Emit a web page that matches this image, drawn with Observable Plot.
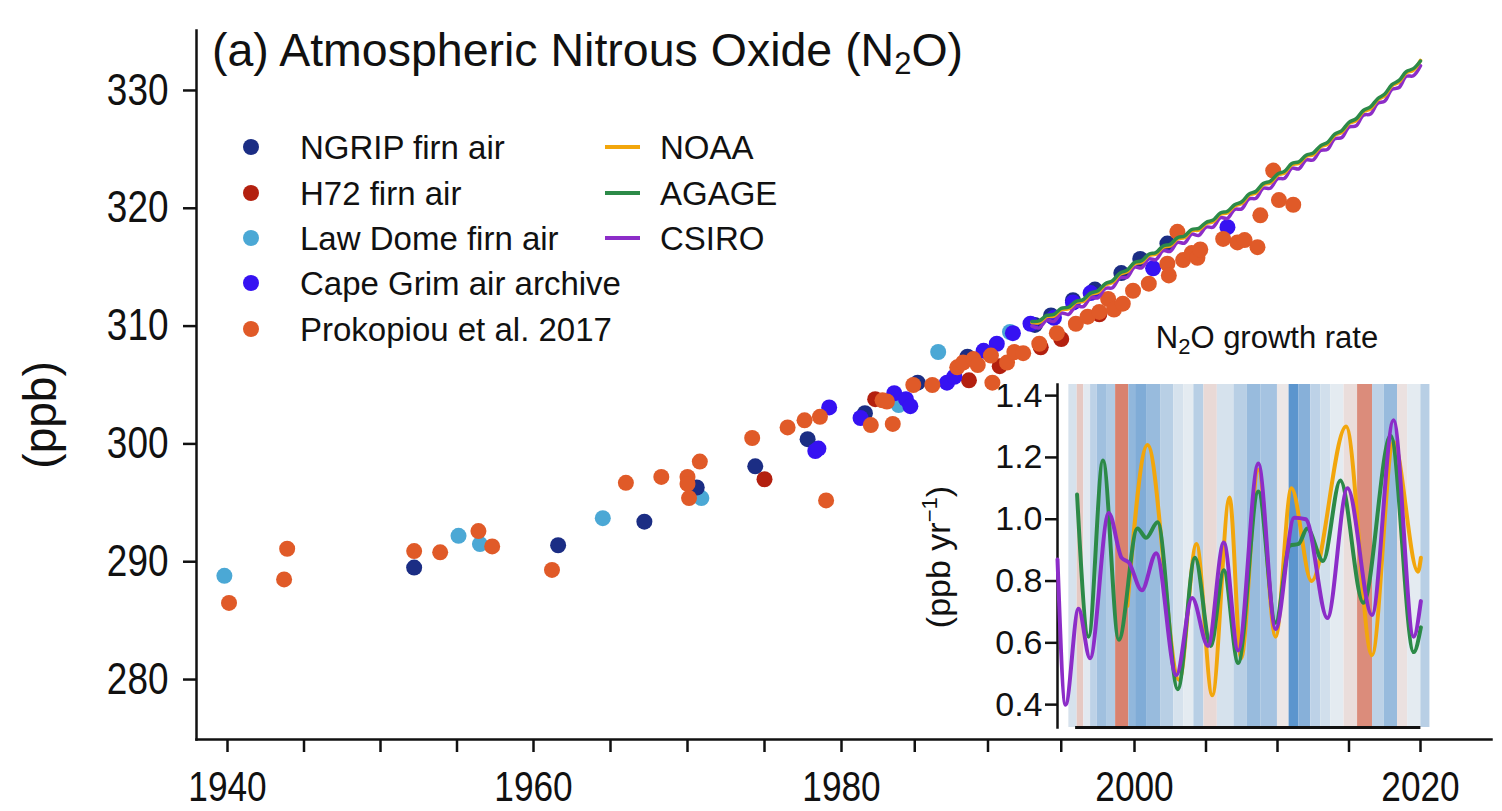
<!DOCTYPE html>
<html>
<head>
<meta charset="utf-8">
<script src="https://cdn.jsdelivr.net/npm/d3@7"></script>
<script src="https://cdn.jsdelivr.net/npm/@observablehq/plot@0.6"></script>
<style>
  html, body { margin: 0; padding: 0; background: #fff; }
  #wrap { position: relative; width: 1502px; height: 811px; overflow: hidden; font-family: "Liberation Sans", Arial, sans-serif; color: #111; }
  #main, #inset { position: absolute; }
  .row { position: absolute; height: 46px; display: flex; align-items: center; white-space: nowrap; font-size: 33px; line-height: 1; color: #111; }
  .dot { display: inline-block; width: 16px; height: 16px; border-radius: 50%; margin-right: 41px; }
  .swatch { display: inline-block; width: 35px; height: 3.5px; margin-right: 20px; }
</style>
</head>
<body>
<div id="wrap">
  <div id="main"></div>
  <div id="inset"></div>
  <div id="legend"></div>
</div>
<script>
// ---------------- DATA ----------------
const pointSeries = ["NGRIP firn air", "H72 firn air", "Law Dome firn air", "Cape Grim air archive", "Prokopiou et al. 2017"];
const pointColors = ["#1b2d84", "#b3200f", "#4ba8d5", "#3612f2", "#e05a28"];

const ngripYear = [1952.2, 1961.6, 1967.2, 1970.6, 1974.4, 1977.8, 1981.6, 1985.2, 1988.6, 1993.2, 1994.3, 1995.8, 1997.3, 1999.1, 2000.4, 2002.3];
const ngripN2O  = [289.5, 291.4, 293.4, 296.3, 298.1, 300.4, 302.6, 305.2, 307.4, 310.1, 310.9, 312.2, 313.1, 314.5, 315.7, 317.0];

const h72Year = [1975.0, 1982.3, 1988.7, 1990.8, 1993.6, 1995.0, 1997.6];
const h72N2O  = [297.0, 303.8, 305.4, 306.6, 308.2, 308.9, 311.0];

const lawYear = [1939.8, 1955.1, 1956.5, 1964.5, 1970.9, 1983.9, 1986.6, 1991.5];
const lawN2O  = [288.8, 292.2, 291.5, 293.7, 295.4, 303.3, 307.8, 309.5];

const capeYear = [1978.3, 1978.5, 1979.2, 1981.3, 1983.6, 1984.4, 1984.7, 1987.2, 1987.7, 1989.7, 1990.6, 1991.7, 1992.9, 1994.5, 1995.8, 1997.0, 2001.3, 2006.5];
const capeN2O  = [299.4, 299.6, 303.1, 302.2, 304.3, 303.8, 303.2, 305.2, 305.7, 307.9, 308.5, 309.4, 310.2, 310.7, 312.0, 312.8, 314.9, 318.4];

const prokYear = [1940.1, 1943.7, 1943.9, 1952.2, 1953.9, 1956.4, 1957.3, 1961.2, 1966.0, 1968.3, 1970.0, 1970.0, 1970.1, 1970.8, 1974.2, 1976.5, 1977.6, 1978.6, 1979.0, 1982.0, 1982.8, 1983.1, 1983.5, 1984.9, 1986.2, 1987.9, 1988.3, 1989.0, 1989.3, 1990.2, 1990.3, 1991.3, 1991.8, 1992.4, 1993.5, 1994.7, 1996.0, 1996.8, 1997.6, 1998.2, 1998.6, 1999.2, 1999.9, 2001.0, 2002.3, 2002.4, 2003.0, 2003.4, 2004.0, 2004.4, 2004.6, 2006.2, 2007.2, 2007.7, 2008.6, 2008.8, 2009.7, 2010.1, 2011.1];
const prokN2O  = [286.5, 288.5, 291.1, 290.9, 290.8, 292.6, 291.3, 289.3, 296.7, 297.2, 297.2, 296.6, 295.4, 298.5, 300.5, 301.4, 302.0, 302.3, 295.2, 301.6, 303.7, 303.6, 301.7, 305.0, 305.0, 306.5, 306.9, 307.2, 306.7, 307.5, 305.2, 306.9, 307.8, 307.7, 308.5, 309.4, 310.2, 310.8, 311.2, 312.3, 311.4, 311.9, 313.0, 313.6, 315.3, 314.3, 318.0, 315.6, 316.2, 315.8, 316.5, 317.4, 317.1, 317.3, 316.7, 319.4, 323.2, 320.7, 320.3];

const lineSeries = ["NOAA", "AGAGE", "CSIRO"];
const lineColors = ["#f2a60c", "#2c8a48", "#8c2dc8"];

const lineYears = [1993.0, 1993.5, 1994.0, 1994.5, 1995.0, 1995.5, 1996.0, 1996.5, 1997.0, 1997.5, 1998.0, 1998.5, 1999.0, 1999.5, 2000.0, 2000.5, 2001.0, 2001.5, 2002.0, 2002.5, 2003.0, 2003.5, 2004.0, 2004.5, 2005.0, 2005.5, 2006.0, 2006.5, 2007.0, 2007.5, 2008.0, 2008.5, 2009.0, 2009.5, 2010.0, 2010.5, 2011.0, 2011.5, 2012.0, 2012.5, 2013.0, 2013.5, 2014.0, 2014.5, 2015.0, 2015.5, 2016.0, 2016.5, 2017.0, 2017.5, 2018.0, 2018.5, 2019.0, 2019.5, 2020.0];
const noaaN2O  = [310.3, 310.3, 310.8, 310.85, 311.4, 311.45, 312.0, 312.1, 312.7, 312.85, 313.5, 313.7, 314.4, 314.6, 315.3, 315.4, 316.0, 316.1, 316.7, 316.8, 317.4, 317.5, 318.1, 318.15, 318.7, 318.85, 319.5, 319.6, 320.2, 320.4, 321.1, 321.3, 322.0, 322.15, 322.8, 323.0, 323.7, 323.8, 324.4, 324.55, 325.2, 325.45, 326.2, 326.45, 327.2, 327.45, 328.2, 328.45, 329.2, 329.55, 330.4, 330.7, 331.5, 331.7, 332.55];
const agageN2O = [310.4, 310.45, 310.9, 311.0, 311.5, 311.6, 312.1, 312.25, 312.8, 313.0, 313.6, 313.85, 314.5, 314.75, 315.4, 315.55, 316.1, 316.25, 316.8, 316.95, 317.5, 317.65, 318.2, 318.3, 318.8, 319.0, 319.6, 319.75, 320.3, 320.55, 321.2, 321.45, 322.1, 322.3, 322.9, 323.15, 323.8, 323.95, 324.5, 324.7, 325.3, 325.6, 326.3, 326.6, 327.3, 327.6, 328.3, 328.6, 329.3, 329.7, 330.5, 330.85, 331.6, 331.85, 332.5];
const csiroN2O = [310.0, 309.85, 310.5, 310.4, 311.1, 311.0, 311.7, 311.65, 312.4, 312.4, 313.2, 313.25, 314.1, 314.15, 315.0, 314.95, 315.7, 315.65, 316.4, 316.35, 317.1, 317.05, 317.8, 317.7, 318.4, 318.4, 319.2, 319.15, 319.9, 319.95, 320.8, 320.85, 321.7, 321.7, 322.5, 322.55, 323.4, 323.35, 324.1, 324.1, 324.9, 325.0, 325.9, 326.0, 326.9, 327.0, 327.9, 328.0, 328.9, 329.1, 330.1, 330.25, 331.2, 331.25, 332.1];

// growth rate inset (ppb/yr)
const noaaRateYear  = [1999.6, 2001.0, 2003.2, 2004.4, 2005.5, 2006.7, 2007.5, 2008.7, 2009.9, 2011.0, 2012.4, 2014.8, 2016.6, 2018.1, 2019.8, 2020.0];
const noaaRate      = [0.72, 1.24, 0.48, 0.92, 0.43, 1.07, 0.55, 1.16, 0.62, 1.10, 0.80, 1.30, 0.56, 1.25, 0.83, 0.875];
const agageRateYear = [1996.1, 1996.9, 1997.9, 1999.0, 2000.3, 2000.9, 2001.7, 2003.1, 2004.3, 2005.4, 2006.3, 2007.3, 2008.7, 2009.9, 2010.9, 2011.5, 2012.1, 2013.2, 2014.4, 2016.0, 2017.9, 2019.5, 2020.0];
const agageRate     = [1.08, 0.62, 1.19, 0.61, 0.97, 0.94, 0.99, 0.45, 0.875, 0.59, 0.835, 0.535, 1.09, 0.665, 0.915, 0.92, 0.97, 0.865, 1.125, 0.73, 1.27, 0.57, 0.65];
const csiroRateYear = [1994.74, 1995.3, 1996.2, 1997.0, 1998.3, 1999.2, 1999.7, 2000.6, 2001.6, 2003.0, 2004.1, 2005.2, 2006.3, 2007.3, 2008.7, 2009.9, 2011.2, 2012.0, 2013.5, 2014.9, 2016.6, 2018.1, 2019.5, 2020.0];
const csiroRate     = [0.87, 0.40, 0.71, 0.55, 1.02, 0.875, 0.86, 0.77, 0.89, 0.495, 0.745, 0.59, 0.925, 0.575, 1.18, 0.645, 1.005, 1.0, 0.68, 1.10, 0.69, 1.32, 0.62, 0.735];

// background stripes (index value; negative = red, positive = blue)
const stripeStart = [1995.53, 1996.11, 1996.57, 1997.04, 1997.50, 1998.20, 1998.78, 1999.70, 2000.17, 2000.98, 2001.91, 2002.83, 2003.53, 2004.22, 2004.92, 2005.85, 2007.01, 2007.94, 2008.87, 2010.03, 2010.84, 2011.53, 2012.35, 2013.04, 2013.74, 2014.66, 2015.60, 2016.64, 2017.45, 2018.38, 2019.08, 2020.0];
const stripeLast = 2020.63;
const stripeIndex = [0.1, -0.2, 0.05, 0.2, 0.32, 0.25, -0.55, 0.38, 0.45, 0.35, 0.22, 0.1, 0.04, 0.22, -0.12, 0.1, 0.22, 0.35, 0.3, -0.05, 0.6, 0.42, 0.2, 0.12, 0.04, -0.1, -0.5, 0.2, 0.35, -0.08, 0.04, 0.22];
const insetSpineYears = [1996.0, 2020.0];

const yTicks = [280, 290, 300, 310, 320, 330];
const xTicks = [1940, 1945, 1950, 1955, 1960, 1965, 1970, 1975, 1980, 1985, 1990, 1995, 2000, 2005, 2010, 2015, 2020];
const xLabelEvery = 20;
const insetTicks = [0.4, 0.6, 0.8, 1.0, 1.2, 1.4];

// ---------------- BUILD ----------------
const REG = "'Liberation Sans', Arial, sans-serif";

const pointData = [];
const addPts = (name, xs, ys) => xs.forEach((x, i) => pointData.push({series: name, year: x, value: ys[i]}));
addPts(pointSeries[2], lawYear, lawN2O);
addPts(pointSeries[0], ngripYear, ngripN2O);
addPts(pointSeries[1], h72Year, h72N2O);
addPts(pointSeries[3], capeYear, capeN2O);
addPts(pointSeries[4], prokYear, prokN2O);

const lineData = [];
[[lineSeries[2], csiroN2O], [lineSeries[0], noaaN2O], [lineSeries[1], agageN2O]].forEach(([name, vals]) =>
  vals.forEach((v, i) => lineData.push({series: name, year: lineYears[i], value: v})));

// piecewise x layout (the reference's year axis is not perfectly uniform)
const xKnots = [1938, 1940, 1960, 1980, 2000, 2020, 2025];
const xKnotPx = [196, 227, 533, 841, 1134, 1420, 1491];

const main = Plot.plot({
  width: 1502, height: 811,
  marginLeft: 196, marginRight: 11, marginTop: 30, marginBottom: 72,
  style: {background: "transparent", fontFamily: REG, overflow: "visible", color: "#111"},
  x: {type: "linear", domain: xKnots, range: xKnotPx, label: null},
  y: {domain: [274.91, 335.09], label: null},
  color: {domain: [...pointSeries, ...lineSeries], range: [...pointColors, ...lineColors]},
  marks: [
    Plot.axisY(yTicks, {tickSize: 13, tickPadding: 15, fontSize: 44, strokeWidth: 2.5, label: null}),
    Plot.axisX(xTicks, {tickSize: 13, tickPadding: 19, fontSize: 42, strokeWidth: 2.5, label: null,
      tickFormat: d => d % xLabelEvery === 0 ? String(d) : ""}),
    Plot.frame({anchor: "left", strokeWidth: 2.5}),
    Plot.frame({anchor: "bottom", strokeWidth: 2.5}),
    Plot.dot(pointData, {x: "year", y: "value", fill: "series", r: 8}),
    Plot.line(lineData, {x: "year", y: "value", z: "series", stroke: "series", strokeWidth: 3.5, curve: "catmull-rom"})
  ]
});
document.getElementById("main").appendChild(main);

// condense the main tick labels horizontally (reference uses a narrow face)
function condense(svgEl, sx) {
  d3.select(svgEl).selectAll("g[aria-label$='tick label'] text").each(function () {
    const tr = this.getAttribute("transform");
    if (tr) {
      this.setAttribute("transform", tr + ` scale(${sx},1)`);
    } else {
      const x = +this.getAttribute("x") || 0, y = +this.getAttribute("y") || 0;
      this.removeAttribute("x"); this.removeAttribute("y");
      this.setAttribute("transform", `translate(${x},${y}) scale(${sx},1)`);
    }
  });
}
condense(main, 0.84);

// title & y label
{
  const svg = d3.select(main);
  const t = svg.append("text").attr("x", 212).attr("y", 66).attr("text-anchor", "start").attr("font-family", REG).attr("font-size", 46.5).attr("fill", "#111");
  t.append("tspan").text("(a) Atmospheric Nitrous Oxide (N");
  t.append("tspan").attr("font-size", 31).attr("dy", 8).text("2");
  t.append("tspan").attr("dy", -8).text("O)");
  svg.append("text").attr("transform", "translate(56,415) rotate(-90)").attr("text-anchor", "middle")
    .attr("font-family", REG).attr("font-size", 46).attr("fill", "#111").text("(ppb)");
}

// inset
const stripes = stripeStart.map((s, i) => ({start: s, end: i + 1 < stripeStart.length ? stripeStart[i + 1] : stripeLast, value: stripeIndex[i]}));
const insetY = [0.326, 1.436];
const insetX = [1994.74, 2020.6];
const rateSets = [
  [noaaRateYear, noaaRate, lineColors[0]],
  [agageRateYear, agageRate, lineColors[1]],
  [csiroRateYear, csiroRate, lineColors[2]]
];
const inset = Plot.plot({
  width: 560, height: 450,
  marginLeft: 157, marginRight: 31, marginTop: 84, marginBottom: 23,
  style: {background: "transparent", fontFamily: REG, overflow: "visible", color: "#111"},
  x: {domain: insetX, axis: null},
  y: {domain: insetY, label: null},
  color: {type: "linear", domain: [-0.55, 0, 0.65], range: ["#d9826f", "#eef1f3", "#4f8dcb"]},
  marks: [
    Plot.rect(stripes, {x1: "start", x2: "end", fill: "value", inset: 0}),
    Plot.axisY(insetTicks, {tickSize: 12, tickPadding: 3, fontSize: 34, strokeWidth: 2.5, label: null, tickFormat: d3.format(".1f")}),
    Plot.frame({anchor: "left", strokeWidth: 2.5}),
    Plot.ruleY([insetY[0]], {x1: insetSpineYears[0], x2: insetSpineYears[1], strokeWidth: 3}),
    ...rateSets.map(([xs, ys, c]) => Plot.line(xs.map((x, i) => ({year: x, rate: ys[i]})), {x: "year", y: "rate", stroke: c, strokeWidth: 4, curve: "monotone-x"}))
  ]
});
const insetDiv = document.getElementById("inset");
insetDiv.style.left = "900px";
insetDiv.style.top = "300px";
insetDiv.appendChild(inset);
{
  const svg = d3.select(inset);
  const t = svg.append("text").attr("x", 367).attr("y", 48).attr("text-anchor", "middle").attr("font-family", REG).attr("font-size", 31).attr("fill", "#111");
  t.append("tspan").text("N");
  t.append("tspan").attr("font-size", 22).attr("dy", 6).text("2");
  t.append("tspan").attr("dy", -6).text("O growth rate");
  const l = svg.append("text").attr("transform", "translate(50,257) rotate(-90)").attr("text-anchor", "middle").attr("font-family", REG).attr("font-size", 34).attr("fill", "#111");
  l.append("tspan").text("(ppb yr");
  l.append("tspan").attr("font-size", 22).attr("dy", -13).text("\u22121");
  l.append("tspan").attr("dy", 13).text(")");
}

// legend (HTML)
const legend = document.getElementById("legend");
const dotRows = [147, 193, 238, 283, 329];
pointSeries.forEach((name, i) => {
  const row = document.createElement("div");
  row.className = "row";
  row.style.left = "243px";
  row.style.top = (dotRows[i] - 23) + "px";
  row.innerHTML = `<span class="dot" style="background:${pointColors[i]}"></span><span>${name}</span>`;
  legend.appendChild(row);
});
lineSeries.forEach((name, i) => {
  const row = document.createElement("div");
  row.className = "row";
  row.style.left = "605px";
  row.style.top = (dotRows[i] - 23) + "px";
  row.innerHTML = `<span class="swatch" style="background:${lineColors[i]}"></span><span>${name}</span>`;
  legend.appendChild(row);
});
</script>
</body>
</html>
